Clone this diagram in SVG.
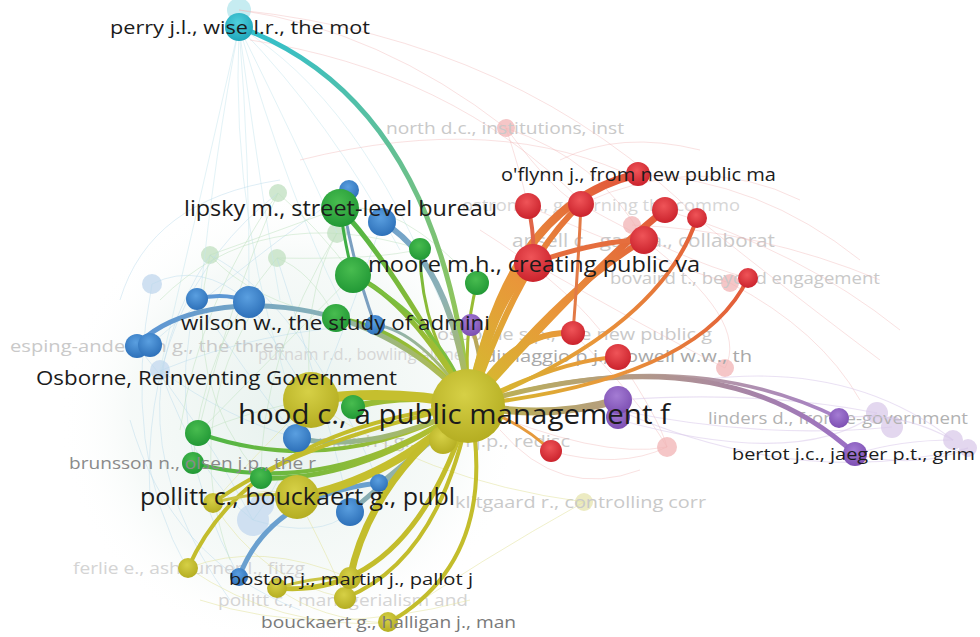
<svg xmlns="http://www.w3.org/2000/svg" width="980" height="637" viewBox="0 0 980 637">
<defs>
<style>
.lb{font-family:'Open Sans','Noto Sans',sans-serif;fill:#1b1b1b}
.fd{font-family:'Open Sans','Noto Sans',sans-serif;fill:#c9c9c9}
.fg{font-family:'Open Sans','Noto Sans',sans-serif;fill:#8a8a8a}
.e{fill:none;stroke-linecap:round}
.fb{fill:none;stroke:#b9d9ea;stroke-width:1;opacity:.45}
.fgr{fill:none;stroke:#bfe1bf;stroke-width:1;opacity:.5}
.fr{fill:none;stroke:#f1b5b5;stroke-width:1;opacity:.4}
.fp{fill:none;stroke:#d9c8ea;stroke-width:1.2;opacity:.55}
.fy{fill:none;stroke:#e3e3a0;stroke-width:1;opacity:.55}
.fc{fill:none;stroke:#c6e6ee;stroke-width:1;opacity:.5}
.R{fill:url(#nR)}.G{fill:url(#nG)}.B{fill:url(#nB)}.Y{fill:url(#nY)}.P{fill:url(#nP)}.C{fill:url(#nC)}
.fR{fill:#f5c6c7}.fG{fill:#cfe7cf}.fB{fill:#cfe0f1}.fY{fill:#ecebc2}.fP{fill:#e3d7ef}.fC{fill:#c6ecf1}
</style>
<radialGradient id="nR" cx=".45" cy=".35" r=".7"><stop offset="0" stop-color="#ef5458"/><stop offset="1" stop-color="#c81f29"/></radialGradient>
<radialGradient id="nG" cx=".45" cy=".35" r=".7"><stop offset="0" stop-color="#48bc4f"/><stop offset="1" stop-color="#1f9634"/></radialGradient>
<radialGradient id="nB" cx=".45" cy=".35" r=".7"><stop offset="0" stop-color="#5a9fe0"/><stop offset="1" stop-color="#2a6db6"/></radialGradient>
<radialGradient id="nY" cx=".45" cy=".35" r=".7"><stop offset="0" stop-color="#d6d046"/><stop offset="1" stop-color="#b2ab1f"/></radialGradient>
<radialGradient id="nP" cx=".45" cy=".35" r=".7"><stop offset="0" stop-color="#a47cd4"/><stop offset="1" stop-color="#7a4cb0"/></radialGradient>
<radialGradient id="nC" cx=".45" cy=".35" r=".7"><stop offset="0" stop-color="#4fcfdc"/><stop offset="1" stop-color="#1ca4b8"/></radialGradient>
<radialGradient id="haze" cx="290" cy="420" r="230" gradientUnits="userSpaceOnUse"><stop offset="0" stop-color="#e4f0ec" stop-opacity=".9"/><stop offset=".7" stop-color="#eef5f2" stop-opacity=".5"/><stop offset="1" stop-color="#ffffff" stop-opacity="0"/></radialGradient>
<linearGradient id="gPerry" gradientUnits="userSpaceOnUse" x1="239" y1="27" x2="470" y2="405"><stop offset="0" stop-color="#2fbfd0"/><stop offset=".5" stop-color="#6cc08a"/><stop offset="1" stop-color="#a8c83c"/></linearGradient>
<linearGradient id="gRed" gradientUnits="userSpaceOnUse" x1="470" y1="405" x2="650" y2="195"><stop offset="0" stop-color="#d2bf2e"/><stop offset=".45" stop-color="#e9963a"/><stop offset="1" stop-color="#e2553a"/></linearGradient>
<linearGradient id="gRed2" gradientUnits="userSpaceOnUse" x1="470" y1="405" x2="750" y2="270"><stop offset="0" stop-color="#d2bf2e"/><stop offset=".45" stop-color="#e9963a"/><stop offset="1" stop-color="#e2553a"/></linearGradient>
<linearGradient id="gGrn" gradientUnits="userSpaceOnUse" x1="470" y1="405" x2="340" y2="220"><stop offset="0" stop-color="#c2c02c"/><stop offset="1" stop-color="#4cb545"/></linearGradient>
<linearGradient id="gGrnL" gradientUnits="userSpaceOnUse" x1="470" y1="420" x2="195" y2="450"><stop offset="0" stop-color="#c2c02c"/><stop offset="1" stop-color="#48b548"/></linearGradient>
<linearGradient id="gBlu" gradientUnits="userSpaceOnUse" x1="470" y1="405" x2="370" y2="220"><stop offset="0" stop-color="#b7be3a"/><stop offset=".5" stop-color="#8fb2b2"/><stop offset="1" stop-color="#6b9fd0"/></linearGradient>
<linearGradient id="gBluL" gradientUnits="userSpaceOnUse" x1="470" y1="405" x2="140" y2="345"><stop offset="0" stop-color="#b7be3a"/><stop offset=".5" stop-color="#86b0b8"/><stop offset="1" stop-color="#5b95d5"/></linearGradient>
<linearGradient id="gBluD" gradientUnits="userSpaceOnUse" x1="420" y1="440" x2="240" y2="578"><stop offset="0" stop-color="#9cb7a0"/><stop offset="1" stop-color="#5e9ad6"/></linearGradient>
<linearGradient id="gPur" gradientUnits="userSpaceOnUse" x1="470" y1="400" x2="860" y2="450"><stop offset="0" stop-color="#bdb54a"/><stop offset=".4" stop-color="#b39a86"/><stop offset="1" stop-color="#9a6ec8"/></linearGradient>
</defs>
<rect width="980" height="637" fill="#ffffff"/>
<ellipse cx="290" cy="420" rx="230" ry="230" fill="url(#haze)"/>

<g id="faded-nodes">
<g id="n-perry-shadow"><circle cx="239" cy="10" r="12" class="fC"/></g>
<g id="n-north"><circle cx="506" cy="128" r="9" class="fR"/><text class="fd" x="386" y="134" font-size="16.5" textLength="238" lengthAdjust="spacingAndGlyphs">north d.c., institutions, inst</text></g>
<g id="n-ostrom"><circle cx="632" cy="225" r="9" class="fR"/><text class="fd" x="462" y="211" font-size="17" textLength="278" lengthAdjust="spacingAndGlyphs" style="fill:#d6d6d6">ostrom e., governing the commo</text></g>
<g id="n-ansell"><text class="fd" x="512" y="247" font-size="18" textLength="263" lengthAdjust="spacingAndGlyphs">ansell c., gash a., collaborat</text></g>
<g id="n-bovaird"><circle cx="730" cy="283" r="9" class="fR"/><text class="fd" x="610" y="284" font-size="17" textLength="270" lengthAdjust="spacingAndGlyphs">bovaird t., beyond engagement</text></g>
<g id="n-osborne-sp"><text class="fd" x="437" y="340" font-size="17" textLength="275" lengthAdjust="spacingAndGlyphs">osborne s.p., the new public g</text></g>
<g id="n-esping"><text class="fd" x="10" y="352" font-size="17" textLength="275" lengthAdjust="spacingAndGlyphs">esping-andersen g., the three</text></g>
<g id="n-putnam"><text class="fd" x="258" y="360" font-size="16" textLength="205" lengthAdjust="spacingAndGlyphs" style="fill:#d6d6d6">putnam r.d., bowling alone</text></g>
<g id="n-dimaggio"><circle cx="725" cy="368" r="9" class="fR"/><text class="fd" x="484" y="362" font-size="17" textLength="268" lengthAdjust="spacingAndGlyphs" style="fill:#a8a8a8">dimaggio p.j., powell w.w., th</text></g>
<g id="n-linders"><circle cx="877" cy="413" r="11" class="fP"/><circle cx="892" cy="427" r="11" class="fP"/><text class="fd" x="708" y="424" font-size="17" textLength="260" lengthAdjust="spacingAndGlyphs" style="fill:#b2b2b2">linders d., from e-government</text></g>
<g id="n-march"><text class="fd" x="318" y="447" font-size="17" textLength="252" lengthAdjust="spacingAndGlyphs">march j.g., olsen j.p., redisc</text></g>
<g id="n-faded-r"><circle cx="667" cy="447" r="10" class="fR"/></g>
<g id="n-faded-p"><circle cx="953" cy="440" r="10" class="fP"/><circle cx="968" cy="448" r="9" class="fP"/></g>
<g id="n-klitgaard"><circle cx="584" cy="502" r="9" class="fY"/><text class="fd" x="455" y="508" font-size="17" textLength="251" lengthAdjust="spacingAndGlyphs">klitgaard r., controlling corr</text></g>
<g id="n-ferlie"><text class="fd" x="73" y="574" font-size="17" textLength="232" lengthAdjust="spacingAndGlyphs" style="fill:#d4d4d4">ferlie e., ashburner l., fitzg</text></g>
<g id="n-pollitt-man"><text class="fd" x="218" y="606" font-size="17" textLength="250" lengthAdjust="spacingAndGlyphs" style="fill:#d4d4d4">pollitt c., managerialism and</text></g>
<g id="n-faded-g"><circle cx="278" cy="193" r="9" class="fG"/><circle cx="210" cy="255" r="9" class="fG"/><circle cx="277" cy="258" r="9" class="fG"/><circle cx="337" cy="233" r="10" class="fG"/></g>
<g id="n-faded-b"><circle cx="152" cy="284" r="10" class="fB"/><circle cx="160" cy="370" r="10" class="fB"/><circle cx="253" cy="520" r="16" class="fB"/><circle cx="262" cy="505" r="12" class="fB"/></g>
</g>

<g id="connectors">
<g id="faint">
<path class="fc" d="M239,27 Q215,150 200,300"/>
<path class="fc" d="M239,27 Q250,160 249,302"/>
<path class="fc" d="M239,27 Q300,150 337,233"/>
<path class="fc" d="M239,27 Q330,120 400,250"/>
<path class="fc" d="M239,27 Q262,200 280,300"/>
<path class="fc" d="M239,27 Q200,200 160,370"/>
<path class="fc" d="M239,27 Q290,200 340,300"/>
<path class="fc" d="M239,27 Q230,230 300,420"/>
<path class="fc" d="M239,27 Q360,100 440,300"/>
<path class="fr" d="M239,10 Q380,30 506,128"/>
<path class="fr" d="M239,10 Q520,40 700,220"/>
<path class="fr" d="M250,40 Q450,70 580,200"/>
<path class="fr" d="M300,160 Q500,110 640,180"/>
<path class="fb" d="M152,284 Q200,260 249,302"/>
<path class="fb" d="M152,284 Q120,450 188,570"/>
<path class="fb" d="M210,255 Q100,420 230,600"/>
<path class="fb" d="M278,193 Q140,300 150,500"/>
<path class="fb" d="M197,299 Q250,380 297,438"/>
<path class="fb" d="M160,370 Q230,420 297,438"/>
<path class="fb" d="M160,370 Q200,480 253,520"/>
<path class="fb" d="M249,302 Q300,380 311,400"/>
<path class="fb" d="M137,346 Q200,420 253,520"/>
<path class="fb" d="M197,299 Q160,430 239,577"/>
<path class="fb" d="M253,520 Q320,540 350,512"/>
<path class="fb" d="M253,520 Q300,460 382,222"/>
<path class="fb" d="M162,370 Q260,330 375,325"/>
<path class="fb" d="M150,345 Q260,250 349,190"/>
<path class="fb" d="M210,255 Q300,300 379,483"/>
<path class="fb" d="M277,258 Q330,420 350,512"/>
<path class="fb" d="M120,300 Q150,200 280,180"/>
<path class="fb" d="M130,420 Q170,560 300,610"/>
<path class="fgr" d="M210,255 Q280,230 340,208"/>
<path class="fgr" d="M278,193 Q320,230 353,275"/>
<path class="fgr" d="M277,258 Q310,270 336,318"/>
<path class="fgr" d="M210,255 Q250,300 336,318"/>
<path class="fgr" d="M278,193 Q230,300 198,433"/>
<path class="fgr" d="M277,258 Q200,350 193,463"/>
<path class="fgr" d="M337,233 Q260,360 261,478"/>
<path class="fgr" d="M210,255 Q180,380 261,478"/>
<path class="fgr" d="M353,275 Q250,380 198,433"/>
<path class="fgr" d="M340,208 Q400,200 476,283"/>
<path class="fgr" d="M337,233 Q300,300 311,400"/>
<path class="fgr" d="M198,433 Q250,410 311,400"/>
<path class="fgr" d="M277,258 Q380,260 420,249"/>
<path class="fgr" d="M160,300 Q260,200 420,249"/>
<path class="fgr" d="M180,430 Q200,300 278,193"/>
<path class="fgr" d="M230,560 Q180,420 260,300"/>
<path class="fy" d="M188,568 Q280,630 388,623"/>
<path class="fy" d="M213,503 Q260,580 345,598"/>
<path class="fy" d="M188,568 Q260,540 350,578"/>
<path class="fy" d="M277,588 Q320,620 388,623"/>
<path class="fy" d="M213,503 Q250,460 311,400"/>
<path class="fy" d="M297,497 Q330,560 345,598"/>
<path class="fy" d="M188,568 Q230,470 297,497"/>
<path class="fy" d="M200,600 Q320,640 470,600"/>
<path class="fy" d="M388,623 Q480,560 584,502"/>
<path class="fy" d="M311,400 Q420,480 584,502"/>
<path class="fr" d="M506,128 Q600,160 644,240"/>
<path class="fr" d="M506,128 Q560,200 581,204"/>
<path class="fr" d="M506,128 Q520,170 528,206"/>
<path class="fr" d="M632,225 Q760,230 880,280"/>
<path class="fr" d="M581,204 Q700,150 800,200"/>
<path class="fr" d="M638,174 Q760,180 860,260"/>
<path class="fr" d="M665,210 Q800,250 900,330"/>
<path class="fr" d="M697,218 Q800,300 880,360"/>
<path class="fr" d="M644,240 Q750,320 725,368"/>
<path class="fr" d="M533,263 Q650,330 725,368"/>
<path class="fr" d="M573,333 Q640,400 667,447"/>
<path class="fr" d="M618,357 Q660,420 667,447"/>
<path class="fr" d="M551,451 Q620,470 667,447"/>
<path class="fr" d="M528,206 Q650,260 730,283"/>
<path class="fr" d="M581,204 Q680,260 748,278"/>
<path class="fr" d="M500,430 Q560,500 640,470"/>
<path class="fr" d="M470,405 Q600,460 667,447"/>
<path class="fr" d="M730,283 Q820,330 860,400"/>
<path class="fr" d="M560,160 Q620,130 700,150"/>
<path class="fr" d="M480,230 Q560,280 600,330"/>
<path class="fp" d="M618,400 Q760,390 877,413"/>
<path class="fp" d="M618,410 Q760,440 892,427"/>
<path class="fp" d="M618,410 Q800,490 968,448"/>
<path class="fp" d="M839,418 Q900,410 953,440"/>
<path class="fp" d="M855,454 Q920,470 968,448"/>
<path class="fp" d="M855,454 Q900,440 953,440"/>
<path class="fp" d="M700,380 Q850,360 953,440"/>
<path class="fp" d="M620,420 Q800,470 877,413"/>
</g>
<g id="strong">
<path class="e" d="M239,27 Q440,100 470,405" stroke="url(#gPerry)" stroke-width="5"/>
<path class="e" d="M470,405 Q720,330 855,454" stroke="url(#gPur)" stroke-width="5"/>
<path class="e" d="M470,405 Q680,340 839,418" stroke="url(#gPur)" stroke-width="3.5" opacity=".9"/>
<path class="e" d="M470,405 Q550,420 618,400" stroke="url(#gPur)" stroke-width="8"/>
<path class="e" d="M470,405 Q490,380 471,325" stroke="#b8a85a" stroke-width="4"/>
<path class="e" d="M470,405 Q505,205 638,174" stroke="url(#gRed)" stroke-width="8"/>
<path class="e" d="M470,405 Q520,260 581,204" stroke="url(#gRed)" stroke-width="6"/>
<path class="e" d="M470,405 Q600,260 665,210" stroke="url(#gRed)" stroke-width="7"/>
<path class="e" d="M470,405 Q560,290 644,240" stroke="url(#gRed)" stroke-width="6"/>
<path class="e" d="M470,405 Q660,330 697,218" stroke="url(#gRed2)" stroke-width="4"/>
<path class="e" d="M470,405 Q700,380 748,278" stroke="url(#gRed2)" stroke-width="4"/>
<path class="e" d="M470,405 Q510,330 573,333" stroke="url(#gRed)" stroke-width="6"/>
<path class="e" d="M470,405 Q560,360 618,357" stroke="url(#gRed2)" stroke-width="4"/>
<path class="e" d="M470,405 Q520,420 551,451" stroke="#e69a3c" stroke-width="3"/>
<path class="e" d="M470,405 Q490,300 533,263" stroke="url(#gRed)" stroke-width="10"/>
<path class="e" d="M528,206 Q535,235 533,263" stroke="#e06548" stroke-width="4"/>
<path class="e" d="M581,204 Q578,270 573,333" stroke="#e27a46" stroke-width="3"/>
<path class="e" d="M533,263 Q600,240 644,240" stroke="#e56e3e" stroke-width="5"/>
<path class="e" d="M470,405 Q390,260 340,208" stroke="url(#gGrn)" stroke-width="5"/>
<path class="e" d="M470,405 Q410,300 353,275" stroke="url(#gGrn)" stroke-width="5"/>
<path class="e" d="M470,405 Q420,330 420,249" stroke="url(#gGrn)" stroke-width="3"/>
<path class="e" d="M470,405 Q462,340 477,283" stroke="url(#gGrn)" stroke-width="3"/>
<path class="e" d="M470,405 Q410,330 336,318" stroke="url(#gGrn)" stroke-width="5"/>
<path class="e" d="M340,208 Q345,245 353,275" stroke="#3fae45" stroke-width="3"/>
<path class="e" d="M353,275 Q440,320 470,405" stroke="#7cbf3e" stroke-width="3"/>
<path class="e" d="M470,405 Q410,392 353,407" stroke="url(#gGrnL)" stroke-width="6"/>
<path class="e" d="M470,405 Q330,480 198,433" stroke="url(#gGrnL)" stroke-width="4"/>
<path class="e" d="M470,405 Q330,500 193,463" stroke="url(#gGrnL)" stroke-width="4"/>
<path class="e" d="M470,405 Q360,482 261,478" stroke="url(#gGrnL)" stroke-width="5"/>
<path class="e" d="M470,405 Q450,260 382,222" stroke="url(#gBlu)" stroke-width="6"/>
<path class="e" d="M345,215 Q355,270 375,325" stroke="#7a9fc0" stroke-width="3"/>
<path class="e" d="M470,405 Q420,330 375,325" stroke="url(#gBlu)" stroke-width="3"/>
<path class="e" d="M137,346 C190,285 370,285 470,405" stroke="url(#gBluL)" stroke-width="5"/>
<path class="e" d="M197,299 Q225,292 249,302" stroke="#5c97d4" stroke-width="4"/>
<path class="e" d="M470,405 Q370,455 297,438" stroke="url(#gBluL)" stroke-width="5"/>
<path class="e" d="M470,405 Q400,470 350,512" stroke="url(#gBluD)" stroke-width="5"/>
<path class="e" d="M470,405 Q420,450 379,483" stroke="url(#gBluD)" stroke-width="3"/>
<path class="e" d="M239,577 Q270,495 379,483" stroke="#6aa0cf" stroke-width="5"/>
<path class="e" d="M470,405 Q390,388 311,400" stroke="#c5bf2e" stroke-width="10"/>
<path class="e" d="M470,405 Q390,480 297,497" stroke="#c5bf2e" stroke-width="8"/>
<path class="e" d="M470,405 Q250,430 188,568" stroke="#c3bd2c" stroke-width="4"/>
<path class="e" d="M470,405 Q410,600 277,588" stroke="#c3bd2c" stroke-width="5"/>
<path class="e" d="M470,405 Q370,480 350,578" stroke="#c3bd2c" stroke-width="7"/>
<path class="e" d="M470,405 Q440,560 345,598" stroke="#c3bd2c" stroke-width="4"/>
<path class="e" d="M470,405 Q500,560 388,623" stroke="#c3bd2c" stroke-width="4"/>
<path class="e" d="M470,405 Q300,440 213,503" stroke="#c3bd2c" stroke-width="4"/>
<path class="e" d="M470,405 Q450,425 443,440" stroke="#c3bd2c" stroke-width="5"/>
<path class="e" d="M277,588 Q320,575 350,578" stroke="#cbc545" stroke-width="3"/>
<path class="e" d="M213,503 Q260,490 297,497" stroke="#cbc545" stroke-width="3"/>
</g>
</g>

<g id="n-r1"><circle cx="528" cy="206" r="13" class="R"/></g>
<g id="n-r2"><circle cx="581" cy="204" r="13" class="R"/></g>
<g id="n-r3"><circle cx="665" cy="210" r="13" class="R"/></g>
<g id="n-r4"><circle cx="697" cy="218" r="10" class="R"/></g>
<g id="n-r5"><circle cx="644" cy="240" r="14" class="R"/></g>
<g id="n-r6"><circle cx="748" cy="278" r="10" class="R"/></g>
<g id="n-r7"><circle cx="573" cy="333" r="12" class="R"/></g>
<g id="n-r8"><circle cx="618" cy="357" r="13" class="R"/></g>
<g id="n-r9"><circle cx="551" cy="451" r="11" class="R"/></g>
<g id="n-p1"><circle cx="471" cy="325" r="11" class="P"/></g>
<g id="n-p3"><circle cx="618" cy="417" r="12" class="P"/></g>
<g id="n-p2"><circle cx="618" cy="400" r="14" class="P"/></g>
<g id="n-p4"><circle cx="839" cy="418" r="10" class="P"/></g>
<g id="n-g1"><circle cx="353" cy="275" r="18" class="G"/></g>
<g id="n-g2"><circle cx="420" cy="249" r="11" class="G"/></g>
<g id="n-g3"><circle cx="477" cy="283" r="12" class="G"/></g>
<g id="n-g4"><circle cx="353" cy="407" r="12" class="G"/></g>
<g id="n-g5"><circle cx="198" cy="433" r="13" class="G"/></g>
<g id="n-g6"><circle cx="261" cy="478" r="11" class="G"/></g>
<g id="n-b1"><circle cx="349" cy="190" r="10" class="B"/></g>
<g id="n-b2"><circle cx="382" cy="222" r="14" class="B"/></g>
<g id="n-b3"><circle cx="197" cy="299" r="11" class="B"/></g>
<g id="n-b4"><circle cx="249" cy="302" r="16" class="B"/></g>
<g id="n-b5"><circle cx="137" cy="346" r="12" class="B"/></g>
<g id="n-b6"><circle cx="150" cy="345" r="12" class="B"/></g>
<g id="n-b7"><circle cx="375" cy="325" r="10" class="B"/></g>
<g id="n-b8"><circle cx="297" cy="438" r="14" class="B"/></g>
<g id="n-b9"><circle cx="350" cy="512" r="14" class="B"/></g>
<g id="n-b10"><circle cx="379" cy="483" r="9" class="B"/></g>
<g id="n-b11"><circle cx="239" cy="577" r="9" class="B"/></g>
<g id="n-y1"><circle cx="443" cy="440" r="14" class="Y"/></g>
<g id="n-y2"><circle cx="213" cy="503" r="10" class="Y"/></g>
<g id="n-y3"><circle cx="188" cy="568" r="10" class="Y"/></g>
<g id="n-y4"><circle cx="277" cy="588" r="10" class="Y"/></g>
<g id="n-y5"><circle cx="345" cy="598" r="11" class="Y"/></g>

<g id="n-perry"><circle cx="239" cy="27" r="14" class="C"/><text class="lb" x="110" y="34" font-size="19" textLength="260" lengthAdjust="spacingAndGlyphs">perry j.l., wise l.r., the mot</text></g>
<g id="n-brunsson"><circle cx="193" cy="463" r="11" class="G"/><text class="fg" x="69" y="469" font-size="16.5" textLength="247" lengthAdjust="spacingAndGlyphs">brunsson n., olsen j.p., the r</text></g>
<g id="n-bertot"><circle cx="855" cy="454" r="12" class="P"/><text class="lb" x="732" y="460" font-size="17" textLength="243" lengthAdjust="spacingAndGlyphs">bertot j.c., jaeger p.t., grim</text></g>
<g id="n-bouckaert"><circle cx="388" cy="622" r="10" class="Y"/><text class="fg" x="261" y="628" font-size="16.5" textLength="255" lengthAdjust="spacingAndGlyphs" style="fill:#7a7a7a">bouckaert g., halligan j., man</text></g>
<g id="n-boston"><circle cx="350" cy="578" r="11" class="Y"/><text class="lb" x="229" y="585" font-size="17" textLength="244" lengthAdjust="spacingAndGlyphs">boston j., martin j., pallot j</text></g>
<g id="n-oflynn"><circle cx="638" cy="174" r="12" class="R"/><text class="lb" x="501" y="181" font-size="18" textLength="275" lengthAdjust="spacingAndGlyphs">o'flynn j., from new public ma</text></g>
<g id="n-lipsky"><circle cx="340" cy="208" r="19" class="G"/><text class="lb" x="184" y="216" font-size="21" textLength="313" lengthAdjust="spacingAndGlyphs">lipsky m., street-level bureau</text></g>
<g id="n-moore"><circle cx="533" cy="263" r="19" class="R"/><text class="lb" x="368" y="272" font-size="21" textLength="332" lengthAdjust="spacingAndGlyphs">moore m.h., creating public va</text></g>
<g id="n-wilson"><circle cx="336" cy="318" r="14" class="G"/><text class="lb" x="181" y="330" font-size="20" textLength="309" lengthAdjust="spacingAndGlyphs">wilson w., the study of admini</text></g>
<g id="n-pollitt"><circle cx="297" cy="497" r="22" class="Y"/><text class="lb" x="140" y="505" font-size="23" textLength="315" lengthAdjust="spacingAndGlyphs">pollitt c., bouckaert g., publ</text></g>
<g id="n-osborne"><circle cx="311" cy="400" r="28" class="Y"/><text class="lb" x="36" y="385" font-size="20" textLength="361" lengthAdjust="spacingAndGlyphs">Osborne, Reinventing Government</text></g>
<g id="n-hood"><circle cx="468" cy="406" r="37" class="Y"/><text class="lb" x="238" y="424" font-size="28" textLength="432" lengthAdjust="spacingAndGlyphs">hood c., a public management f</text></g>
</svg>
